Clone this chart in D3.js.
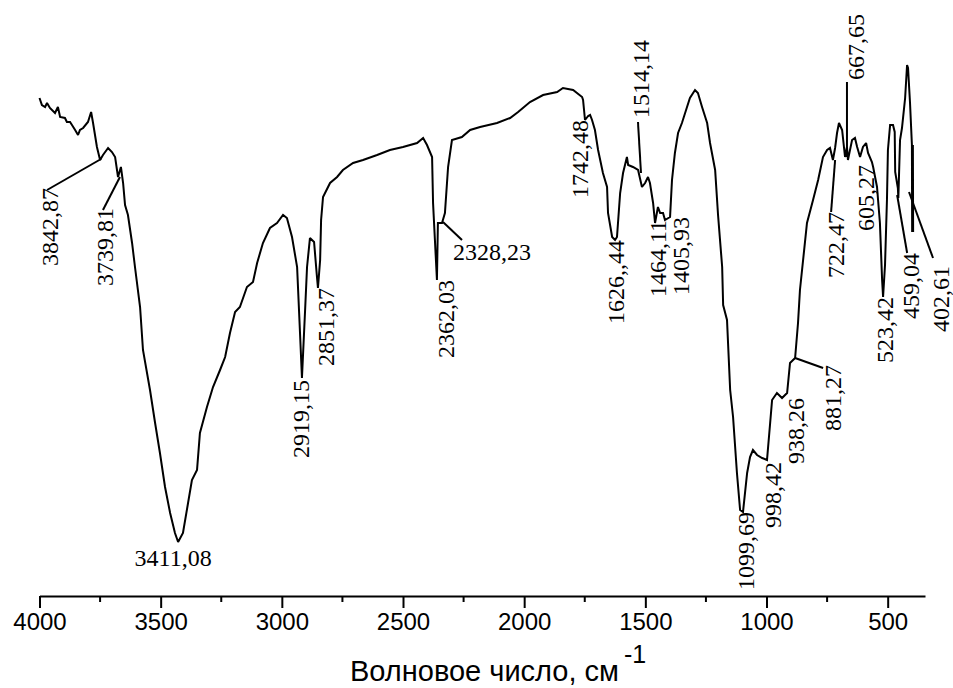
<!DOCTYPE html>
<html>
<head>
<meta charset="utf-8">
<script src="https://cdn.jsdelivr.net/npm/d3@7"></script>
<style>
  body { margin: 0; background: #fff; }
  svg { display: block; }
</style>
</head>
<body>
<svg id="ir-spectrum" width="953" height="688"></svg>
<script>
// spectrum trace (wavenumber, cm-1 / transmittance, arbitrary %)
const wavenumber = [
  4000, 3990, 3977, 3969, 3957, 3936, 3924, 3915, 3895, 3887, 3874, 3866, 3853, 3841, 3833,
  3820, 3800, 3787, 3779, 3763, 3750, 3738, 3717, 3701, 3688, 3676, 3664, 3655, 3647, 3635,
  3618, 3606, 3585, 3573, 3544, 3523, 3503, 3482, 3461, 3441, 3428, 3408, 3387, 3371, 3350,
  3338, 3309, 3284, 3255, 3234, 3214, 3193, 3173, 3144, 3119, 3102, 3078, 3049, 3020, 2995,
  2979, 2958, 2937, 2925, 2917, 2904, 2896, 2884, 2867, 2855, 2851, 2842, 2838, 2830, 2801,
  2772, 2748, 2706, 2665, 2607, 2554, 2500, 2442, 2417, 2401, 2380, 2376, 2360, 2356, 2339,
  2327, 2314, 2298, 2257, 2223, 2182, 2112, 2058, 2025, 1976, 1922, 1864, 1840, 1798, 1761,
  1757, 1749, 1736, 1728, 1720, 1708, 1695, 1675, 1658, 1654, 1637, 1625, 1617, 1604, 1592,
  1576, 1571, 1551, 1530, 1514, 1501, 1489, 1481, 1468, 1460, 1448, 1439, 1427, 1419, 1398,
  1390, 1378, 1365, 1349, 1328, 1316, 1295, 1283, 1266, 1245, 1233, 1212, 1200, 1183, 1179,
  1163, 1150, 1138, 1122, 1109, 1097, 1080, 1068, 1056, 1039, 1018, 998, 985, 977, 957,
  936, 915, 903, 882, 870, 862, 833, 808, 787, 767, 750, 738, 726, 717, 709,
  701, 688, 676, 668, 664, 647, 635, 626, 614, 602, 589, 581, 565, 560, 544,
  532, 523, 519, 511, 503, 499, 490, 478, 471, 469, 458, 456, 449, 441, 428,
  420, 416, 408, 400, 399, 396, 395
];
const transmittance = [
  50.2, 49.5, 49.3, 49.7, 49.2, 48.7, 49.3, 48.3, 48.2, 47.8, 47.8, 47.5, 47.0, 46.5, 47.0,
  47.2, 47.8, 48.8, 47.7, 45.3, 44.0, 44.5, 45.2, 44.8, 44.3, 42.3, 43.3, 41.7, 39.5, 38.5,
  35.7, 33.3, 29.3, 25.0, 21.0, 17.7, 14.7, 11.3, 8.7, 6.7, 5.8, 6.7, 9.7, 12.0, 13.0,
  16.7, 19.3, 21.3, 23.0, 24.3, 26.7, 28.8, 29.3, 31.3, 31.8, 33.7, 35.7, 37.2, 37.7, 38.5,
  38.2, 36.3, 33.3, 26.7, 22.2, 29.0, 33.3, 36.2, 35.8, 32.3, 31.2, 34.0, 38.0, 40.3, 41.7,
  42.3, 43.0, 43.7, 44.0, 44.5, 45.0, 45.3, 45.7, 46.2, 45.5, 44.3, 39.7, 32.0, 37.7, 37.7,
  38.7, 43.3, 46.0, 46.3, 47.0, 47.3, 47.7, 48.2, 48.8, 49.8, 50.5, 50.8, 51.2, 51.0, 50.3,
  50.0, 48.0, 48.4, 48.5, 48.0, 47.0, 45.0, 42.7, 41.3, 38.7, 36.3, 36.0, 36.3, 40.7, 42.7,
  44.3, 43.5, 43.3, 43.0, 41.3, 41.7, 42.3, 41.7, 39.7, 37.7, 39.3, 38.7, 38.7, 38.0, 38.3,
  42.0, 44.7, 46.7, 47.7, 49.3, 50.2, 51.0, 50.7, 49.3, 47.7, 45.7, 43.0, 38.5, 33.3, 29.5,
  28.0, 21.0, 18.3, 12.7, 9.0, 8.8, 12.7, 14.3, 15.0, 14.5, 14.2, 14.0, 17.7, 20.0, 20.7,
  20.2, 20.7, 23.7, 24.2, 27.7, 31.0, 37.7, 40.0, 42.0, 44.3, 45.0, 45.2, 44.0, 45.2, 46.7,
  47.7, 47.0, 44.3, 45.3, 44.0, 46.0, 46.2, 45.3, 44.3, 45.3, 45.7, 44.7, 43.8, 43.3, 41.3,
  37.7, 32.0, 30.3, 33.5, 40.0, 45.0, 47.5, 47.5, 46.8, 42.8, 41.2, 40.2, 46.0, 47.2, 50.2,
  53.5, 53.2, 49.8, 45.5, 36.8, 45.5, 36.8
];

// marked bands: label text, band position (cm-1), transmittance at the marked point
const peakText = [
  "3842,87", "3739,81", "3411,08", "2919,15", "2851,37", "2362,03", "2328,23", "1742,48",
  "1626,,44", "1514,14", "1464,11", "1405,93", "1099,69", "998,42", "938,26", "881,27",
  "722,47", "667,65", "605,27", "523,42", "459,04", "402,61"
];
const peakWn = [
  3746, 3668, 3428, 2917, 2851, 2360, 2335, 1749,
  1625, 1518, 1460, 1398, 1097, 998, 915, 882,
  717, 668, 565, 519, 461, 412
];
const peakT = [
  44.1, 42.3, 5.8, 22.2, 31.2, 32.0, 37.8, 48.0,
  36.0, 42.7, 37.8, 38.3, 8.8, 14.0, 20.7, 24.2,
  44.0, 44.3, 43.8, 30.3, 40.5, 40.8
];

const majorTicks = [4000, 3500, 3000, 2500, 2000, 1500, 1000, 500];
const minorTicks = [3750, 3250, 2750, 2250, 1750, 1250, 750];

// label placement, px offsets from the marked point
// mode: "down" = vertical text hanging below anchor, "up" = vertical text rising from anchor, "h" = horizontal
const labelLayout = [
  { mode: "down", dx: -43, dy: 29, lead: [-54, 31] },
  { mode: "down", dx: -7, dy: 31, lead: [-17, 33] },
  { mode: "h", dx: -5, dy: 24, anchor: "middle" },
  { mode: "down", dx: 7, dy: 2 },
  { mode: "down", dx: 16, dy: 0 },
  { mode: "down", dx: 17, dy: 0 },
  { mode: "h", dx: 10, dy: 38, anchor: "start", lead: [19, 18] },
  { mode: "down", dx: 3, dy: 0 },
  { mode: "down", dx: 9, dy: 0 },
  { mode: "up", dx: 8, dy: -55, lead: [-3, -51] },
  { mode: "down", dx: 11, dy: -2 },
  { mode: "down", dx: 19, dy: 0 },
  { mode: "down", dx: 11, dy: 0 },
  { mode: "down", dx: 14, dy: 2 },
  { mode: "down", dx: 17, dy: 5 },
  { mode: "down", dx: 46, dy: 7, lead: [28, 10] },
  { mode: "down", dx: 9, dy: 52, lead: [-4, 52] },
  { mode: "up", dx: 17, dy: -77, lead: [0, -75] },
  { mode: "down", dx: 2, dy: 3 },
  { mode: "down", dx: 10, dy: 0 },
  { mode: "down", dx: 22, dy: 58, lead: [10, 58] },
  { mode: "down", dx: 40, dy: 74, lead: [24, 66] }
];

const svg = d3.select("#ir-spectrum");
const axisY = 596;

const x = d3.scaleLinear()
  .domain([4000, 346])
  .range([39.5, 925]);

const y = d3.scaleLinear()
  .domain([0, 60])
  .range([600, 0]);

const spectrum = wavenumber.map((w, i) => ({ w, t: transmittance[i] }));

// spectrum line
const line = d3.line()
  .x(d => x(d.w))
  .y(d => y(d.t));

svg.append("path")
  .datum(spectrum)
  .attr("d", line)
  .attr("fill", "none")
  .attr("stroke", "#000")
  .attr("stroke-width", 2)
  .attr("stroke-linejoin", "miter")
  .attr("stroke-miterlimit", 2);

// x axis
const xAxis = d3.axisBottom(x)
  .tickValues(majorTicks)
  .tickSize(12)
  .tickSizeOuter(0)
  .tickPadding(5)
  .tickFormat(d3.format("d"));

const axisG = svg.append("g")
  .attr("transform", `translate(0,${axisY})`)
  .call(xAxis);

axisG.select(".domain")
  .attr("stroke-width", 2);
axisG.selectAll(".tick line")
  .attr("stroke-width", 2);
axisG.selectAll(".tick text")
  .attr("font-family", "'Liberation Sans', Arial, sans-serif")
  .attr("font-size", 24)
  .attr("fill", "#000");

axisG.selectAll(".minor")
  .data(minorTicks)
  .enter()
  .append("line")
  .attr("class", "minor")
  .attr("x1", d => x(d))
  .attr("x2", d => x(d))
  .attr("y1", 0)
  .attr("y2", 6)
  .attr("stroke", "#000")
  .attr("stroke-width", 2);

// axis title
const title = svg.append("g")
  .attr("font-family", "'Liberation Sans', Arial, sans-serif")
  .attr("fill", "#000");

title.append("text")
  .attr("x", 350)
  .attr("y", 681)
  .attr("font-size", 29)
  .text("Волновое число, см");

title.append("text")
  .attr("x", 624)
  .attr("y", 663)
  .attr("font-size", 25)
  .text("-1");

// band labels
const labels = peakText.map((text, i) => ({
  text,
  px: x(peakWn[i]),
  py: y(peakT[i]),
  ...labelLayout[i]
}));

const ann = svg.append("g")
  .attr("font-family", "'Liberation Serif', 'Times New Roman', serif")
  .attr("font-size", 24)
  .attr("fill", "#000");

ann.selectAll("line.lead")
  .data(labels.filter(d => d.lead))
  .enter()
  .append("line")
  .attr("class", "lead")
  .attr("x1", d => d.px)
  .attr("y1", d => d.py)
  .attr("x2", d => d.px + d.lead[0])
  .attr("y2", d => d.py + d.lead[1])
  .attr("stroke", "#000")
  .attr("stroke-width", 2);

ann.selectAll("text.band")
  .data(labels)
  .enter()
  .append("text")
  .attr("class", "band")
  .attr("transform", d => {
    const tx = d.px + d.dx;
    const ty = d.py + d.dy;
    return d.mode === "h" ? `translate(${tx},${ty})` : `translate(${tx},${ty}) rotate(-90)`;
  })
  .attr("text-anchor", d => d.mode === "h" ? d.anchor : (d.mode === "down" ? "end" : "start"))
  .text(d => d.text);
</script>
</body>
</html>
